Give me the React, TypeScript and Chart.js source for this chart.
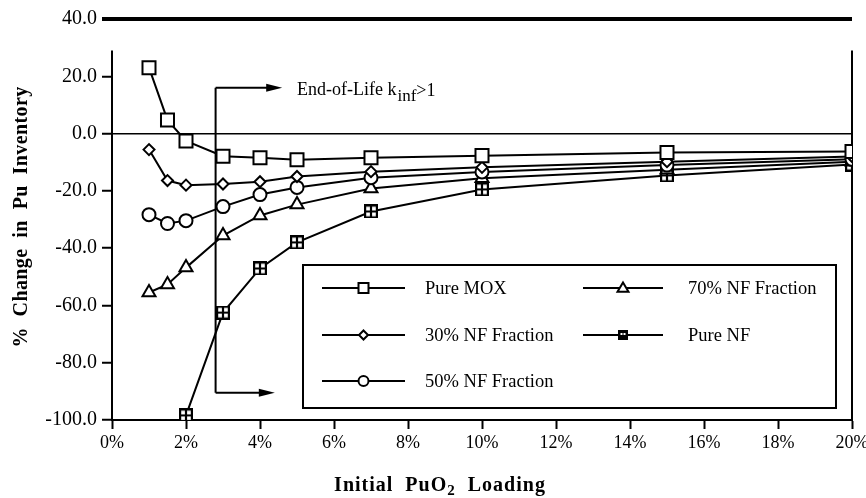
import React, { useEffect, useRef } from "react";
import { Chart, registerables } from "chart.js";

Chart.register(...registerables);

// ---- data ----
const loadings = [1, 1.5, 2, 3, 4, 5, 7, 10, 15, 20];
const pureMox = [23.0, 4.7, -2.6, -7.9, -8.4, -9.1, -8.4, -7.7, -6.6, -6.3];
const nf30 = [-5.6, -16.4, -18.0, -17.6, -16.8, -15.0, -13.3, -11.8, -9.8, -8.0];
const nf50 = [-28.3, -31.4, -30.4, -25.5, -21.3, -18.8, -15.4, -13.4, -11.0, -9.0];
const nf70 = [-55.5, -52.7, -46.8, -35.6, -28.6, -24.8, -19.2, -15.6, -12.6, -9.8];
const pureNfLoadings = [2, 3, 4, 5, 7, 10, 15, 20];
const pureNf = [-98.4, -62.5, -47.1, -38.0, -27.2, -19.5, -14.6, -10.8];
const seriesNames = ["Pure MOX", "30% NF Fraction", "50% NF Fraction", "70% NF Fraction", "Pure NF"];

const xMin = 0;
const xMax = 20;
const xStep = 2;
const yMin = -100;
const yMax = 40;
const yStep = 20;
const axisTop = 29; // frame lines start here

// annotation: End-of-life k_inf > 1 boundary
const eolLoading = 2.8;
const eolTop = 16;
const eolBottom = -90.5;
const eolArrowTopEnd = 4.6;
const eolArrowBottomEnd = 4.4;
const eolTextLoading = 5.0;

const SERIF = "'Liberation Serif', 'Times New Roman', serif";

function makeCrossSquare(size: number, lw: number) {
  const c = document.createElement("canvas");
  c.width = size;
  c.height = size;
  const g = c.getContext("2d")!;
  g.fillStyle = "#fff";
  g.fillRect(0, 0, size, size);
  g.strokeStyle = "#000";
  g.lineWidth = lw;
  g.strokeRect(lw / 2, lw / 2, size - lw, size - lw);
  g.beginPath();
  g.moveTo(size / 2, 0);
  g.lineTo(size / 2, size);
  g.moveTo(0, size / 2);
  g.lineTo(size, size / 2);
  g.stroke();
  return c;
}

function drawMarker(ctx: CanvasRenderingContext2D, kind: string, x: number, y: number, s: number) {
  ctx.save();
  ctx.fillStyle = "#fff";
  ctx.strokeStyle = "#000";
  ctx.lineWidth = 2;
  ctx.beginPath();
  if (kind === "rect") {
    ctx.rect(x - s, y - s, 2 * s, 2 * s);
    ctx.fill();
    ctx.stroke();
  } else if (kind === "diamond") {
    ctx.moveTo(x, y - s);
    ctx.lineTo(x + s, y);
    ctx.lineTo(x, y + s);
    ctx.lineTo(x - s, y);
    ctx.closePath();
    ctx.fill();
    ctx.stroke();
  } else if (kind === "circle") {
    ctx.arc(x, y, s, 0, Math.PI * 2);
    ctx.fill();
    ctx.stroke();
  } else if (kind === "triangle") {
    ctx.moveTo(x, y - s);
    ctx.lineTo(x + s, y + s * 0.7);
    ctx.lineTo(x - s, y + s * 0.7);
    ctx.closePath();
    ctx.fill();
    ctx.stroke();
  } else if (kind === "cross") {
    ctx.fillStyle = "#000";
    ctx.fillRect(x - s, y - s, 2 * s, 2 * s);
    ctx.fillStyle = "#fff";
    ctx.fillRect(x - s + 2.5, y - 2, 2, 2);
    ctx.fillRect(x + s - 4.5, y - 2, 2, 2);
  }
  ctx.restore();
}

const frameAndNotes = {
  id: "frameAndNotes",
  beforeDatasetsDraw(chart: any) {
    const { ctx, scales } = chart;
    const xs = scales.x;
    const ys = scales.y;
    ctx.save();
    ctx.strokeStyle = "#000";
    ctx.fillStyle = "#000";
    ctx.lineWidth = 2;
    // frame sides
    const yT = ys.getPixelForValue(axisTop);
    const yB = ys.getPixelForValue(yMin);
    const xL = xs.getPixelForValue(xMin);
    const xR = xs.getPixelForValue(xMax);
    ctx.beginPath();
    ctx.moveTo(xL, yT);
    ctx.lineTo(xL, yB);
    ctx.moveTo(xR, yT);
    ctx.lineTo(xR, yB);
    ctx.stroke();

    // annotation
    const ax = xs.getPixelForValue(eolLoading);
    const at = ys.getPixelForValue(eolTop);
    const ab = ys.getPixelForValue(eolBottom);
    ctx.lineWidth = 2;
    ctx.beginPath();
    ctx.moveTo(ax, at);
    ctx.lineTo(ax, ab);
    ctx.stroke();
    const arrow = (y: number, xEnd: number) => {
      ctx.beginPath();
      ctx.moveTo(ax, y);
      ctx.lineTo(xEnd - 10, y);
      ctx.stroke();
      ctx.beginPath();
      ctx.moveTo(xEnd, y);
      ctx.lineTo(xEnd - 16, y - 4);
      ctx.lineTo(xEnd - 16, y + 4);
      ctx.closePath();
      ctx.fill();
    };
    arrow(at, xs.getPixelForValue(eolArrowTopEnd));
    arrow(ab, xs.getPixelForValue(eolArrowBottomEnd));

    // annotation text
    let tx = xs.getPixelForValue(eolTextLoading);
    const ty = at + 7;
    ctx.textBaseline = "alphabetic";
    ctx.textAlign = "left";
    ctx.font = `18px ${SERIF}`;
    const t1 = "End-of-Life k";
    ctx.fillText(t1, tx, ty);
    tx += ctx.measureText(t1).width + 1;
    ctx.font = `17px ${SERIF}`;
    ctx.fillText("inf", tx, ty + 6);
    tx += ctx.measureText("inf").width;
    ctx.font = `18px ${SERIF}`;
    ctx.fillText(">1", tx, ty + 1);
    ctx.restore();
  },
  afterDraw(chart: any) {
    const { ctx } = chart;
    ctx.save();
    // legend box
    const bx = 303, by = 265, bw = 533, bh = 143;
    ctx.fillStyle = "#fff";
    ctx.fillRect(bx, by, bw, bh);
    ctx.strokeStyle = "#000";
    ctx.lineWidth = 2;
    ctx.strokeRect(bx, by, bw, bh);
    const kinds = ["rect", "diamond", "circle", "triangle", "cross"];
    const sizes = [5, 4.5, 5, 5.5, 5];
    const slots = [
      [322, 405, 288, 425],
      [322, 405, 335, 425],
      [322, 405, 381, 425],
      [583, 663, 288, 688],
      [583, 663, 335, 688],
    ];
    ctx.font = `18.5px ${SERIF}`;
    ctx.textBaseline = "middle";
    ctx.textAlign = "left";
    seriesNames.forEach((name, i) => {
      const [l0, l1, yy, tx] = slots[i];
      ctx.strokeStyle = "#000";
      ctx.lineWidth = 2;
      ctx.beginPath();
      ctx.moveTo(l0, yy);
      ctx.lineTo(l1, yy);
      ctx.stroke();
      drawMarker(ctx, kinds[i], (l0 + l1) / 2, yy, sizes[i]);
      ctx.fillStyle = "#000";
      ctx.fillText(name, tx, yy + 1);
    });

    // axis titles
    ctx.fillStyle = "#000";
    ctx.textBaseline = "middle";
    (ctx as any).letterSpacing = "1px";
    // x title with subscript
    const parts1 = "Initial  PuO";
    const parts2 = "2";
    const parts3 = "  Loading";
    ctx.font = `bold 20px ${SERIF}`;
    const w1 = ctx.measureText(parts1).width;
    const w3 = ctx.measureText(parts3).width;
    ctx.font = `bold 15px ${SERIF}`;
    const w2 = ctx.measureText(parts2).width;
    let x = 440 - (w1 + w2 + w3) / 2;
    const y = 486;
    ctx.font = `bold 20px ${SERIF}`;
    ctx.fillText(parts1, x, y);
    x += w1;
    ctx.font = `bold 15px ${SERIF}`;
    ctx.fillText(parts2, x, y + 5);
    x += w2;
    ctx.font = `bold 20px ${SERIF}`;
    ctx.fillText(parts3, x, y);

    // y title
    (ctx as any).letterSpacing = "0.4px";
    ctx.translate(22, 217);
    ctx.rotate(-Math.PI / 2);
    ctx.textAlign = "center";
    ctx.font = `bold 20px ${SERIF}`;
    ctx.fillText("%  Change  in  Pu  Inventory", 0, 0);
    ctx.restore();
  },
};

export default function App() {
  const ref = useRef<HTMLCanvasElement | null>(null);
  useEffect(() => {
    const canvas = ref.current!;
    const nfStyle = makeCrossSquare(14, 2.2);
    const mk = (xs: number[], ys: number[]) => xs.map((x, i) => ({ x, y: ys[i] }));
    const base = {
      borderColor: "#000",
      borderWidth: 2,
      pointBackgroundColor: "#fff",
      pointBorderColor: "#000",
      pointBorderWidth: 2,
      tension: 0,
      fill: false,
    };
    const chart = new Chart(canvas, {
      type: "line",
      data: {
        datasets: [
          { ...base, label: seriesNames[0], data: mk(loadings, pureMox), pointStyle: "rect", pointRadius: 9.2 },
          { ...base, label: seriesNames[1], data: mk(loadings, nf30), pointStyle: "rectRot", pointRadius: 5.5 },
          { ...base, label: seriesNames[2], data: mk(loadings, nf50), pointStyle: "circle", pointRadius: 6.5 },
          { ...base, label: seriesNames[3], data: mk(loadings, nf70), pointStyle: "triangle", pointRadius: 7.5 },
          { ...base, label: seriesNames[4], data: mk(pureNfLoadings, pureNf), pointStyle: nfStyle as any, pointRadius: 7 },
        ],
      },
      options: {
        responsive: false,
        animation: false,
        devicePixelRatio: 1,
        layout: { padding: { top: 19, right: 14, left: 0, bottom: 0 } },
        plugins: { legend: { display: false }, tooltip: { enabled: false } },
        scales: {
          x: {
            type: "linear",
            min: xMin,
            max: xMax,
            afterFit: (s: any) => {
              s.height = 78;
              s.paddingRight = 0;
              s.paddingLeft = 0;
            },
            ticks: {
              stepSize: xStep,
              color: "#000",
              padding: 3,
              font: { family: SERIF, size: 18 },
              callback: (v: any) => `${v}%`,
            },
            grid: {
              drawOnChartArea: false,
              drawTicks: true,
              tickLength: 9,
              tickColor: "#000",
              tickWidth: 2,
              color: "#000",
            },
            border: { display: true, color: "#000", width: 2 },
          },
          y: {
            type: "linear",
            min: yMin,
            max: yMax,
            afterFit: (s: any) => {
              s.width = 112;
            },
            ticks: {
              stepSize: yStep,
              color: "#000",
              padding: 5,
              font: { family: SERIF, size: 20 },
              callback: (v: any) => Number(v).toFixed(1),
            },
            grid: {
              drawTicks: true,
              tickLength: 10,
              tickColor: "#000",
              tickWidth: (c: any) => (c.tick && c.tick.value === yMax ? 4 : 2),
              color: (c: any) => (c.tick && (c.tick.value === 0 || c.tick.value === yMax) ? "#000" : "rgba(0,0,0,0)"),
              lineWidth: (c: any) => (c.tick && c.tick.value === yMax ? 4 : 1.5),
            },
            border: { display: false },
          },
        },
      },
      plugins: [frameAndNotes],
    });
    return () => chart.destroy();
  }, []);
  return (
    <div style={{ position: "fixed", left: 0, top: 0, width: 866, height: 498, background: "#fff" }}>
      <canvas ref={ref} width={866} height={498} style={{ display: "block" }} />
    </div>
  );
}
